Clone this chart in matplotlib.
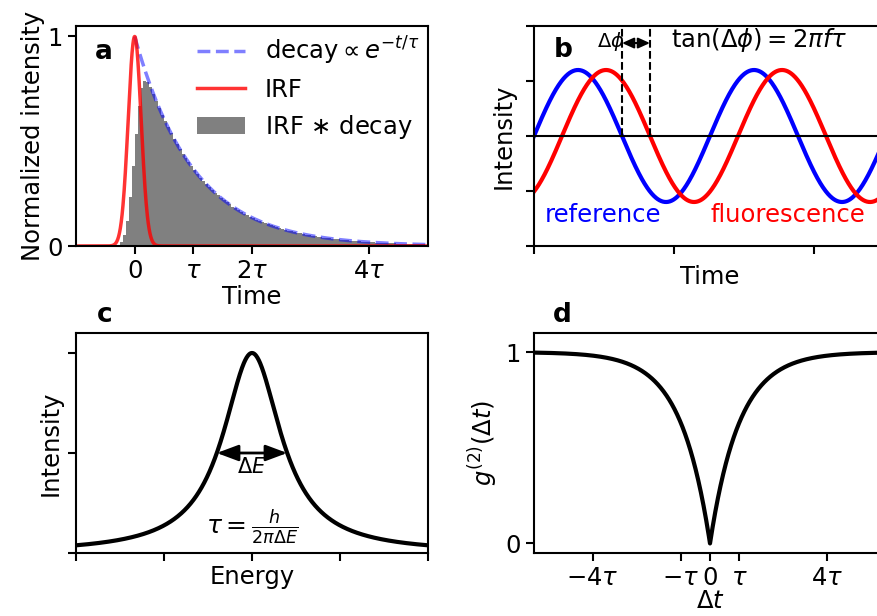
import math
import numpy as np
import matplotlib
matplotlib.use("Agg")
import matplotlib.pyplot as plt

plt.rcParams['font.size'] = 17.5
plt.rcParams['axes.linewidth'] = 1.5
plt.rcParams['xtick.major.width'] = 1.5
plt.rcParams['ytick.major.width'] = 1.5
plt.rcParams['xtick.major.size'] = 6
plt.rcParams['ytick.major.size'] = 6

# --- panel a: lifetime decay, IRF and measured histogram
tau = 1.0
irf_sigma = 0.11
bin_width = 0.05
a_xticks = [0, 1, 2, 4]
a_xticklabels = ['0', r'$\tau$', r'$2\tau$', r'$4\tau$']
a_legend = [r'decay$\propto e^{-t/\tau}$', 'IRF', r'IRF $\ast$ decay']

# --- panel b: frequency-domain phase shift
wave_amp = 1.2
phase_shift = 1.0  # rad
b_xlim = (0, 4 * np.pi)

# --- panel c: lorentzian line
half_width = 0.4

# --- panel d: antibunching
d_xticks = [-4, -1, 0, 1, 4]
d_xticklabels = [r'$-4\tau$', r'$-\tau$', '0', r'$\tau$', r'$4\tau$']

fig = plt.figure(figsize=(8.77, 6.16), dpi=100)
W, H = 877, 616


def px_axes(x0, y0, x1, y1):
    return fig.add_axes([x0 / W, 1 - y1 / H, (x1 - x0) / W, (y1 - y0) / H])


ax_a = px_axes(76, 26, 428, 246)
ax_b = px_axes(534, 26, 886, 246)
ax_c = px_axes(76, 333, 428, 553)
ax_d = px_axes(534, 333, 886, 553)

# a
t = np.linspace(-1, 5, 1200)
t_dec = np.linspace(0, 5, 400)
edges = np.arange(-1, 5 + bin_width, bin_width)
centers = edges[:-1] + bin_width / 2
conv = np.array([math.exp(irf_sigma ** 2 / (2 * tau ** 2) - c / tau)
                 * 0.5 * (1 + math.erf((c - irf_sigma ** 2 / tau) / (irf_sigma * math.sqrt(2))))
                 for c in centers])
irf = np.exp(-t ** 2 / (2 * irf_sigma ** 2))

l_dec, = ax_a.plot(t_dec, np.exp(-t_dec / tau), '--', color='blue', alpha=0.5, lw=2.5)
bars = ax_a.bar(centers, conv, width=bin_width, color='gray', linewidth=0)
l_irf, = ax_a.plot(t, irf, color='red', alpha=0.8, lw=2.5)
ax_a.set_xlim(-1, 5)
ax_a.set_ylim(0, 1.05)
ax_a.set_xticks(a_xticks)
ax_a.set_xticklabels(a_xticklabels)
ax_a.set_yticks([0, 1])
ax_a.set_xlabel('Time', labelpad=1)
ax_a.set_ylabel('Normalized intensity', labelpad=2)
ax_a.legend([l_dec, l_irf, bars], a_legend, loc='upper right', frameon=False,
            handlelength=2.0, borderaxespad=0.1, labelspacing=0.45, borderpad=0.25,
            handletextpad=0.8)
ax_a.text(0.055, 0.88, 'a', transform=ax_a.transAxes, fontweight='bold', fontsize=19, va='center')

# b
x = np.linspace(b_xlim[0], b_xlim[1], 800)
ax_b.plot(x, wave_amp * np.sin(x), color='blue', lw=3)
ax_b.plot(x, wave_amp * np.sin(x - phase_shift), color='red', lw=3)
ax_b.axhline(0, color='k', lw=1.5)
ax_b.vlines([np.pi, np.pi + phase_shift], 0, 2, colors='k', linestyles='--', lw=1.5)
ax_b.annotate('', xy=(np.pi, 1.69), xytext=(np.pi + phase_shift, 1.69),
              arrowprops=dict(arrowstyle='<|-|>,head_length=0.4,head_width=0.18',
                              lw=1.5, color='k', shrinkA=0, shrinkB=0))
ax_b.text(np.pi + 0.1, 1.71, r'$\Delta\phi$', ha='right', va='center', fontsize=14)
ax_b.text(8.05, 1.75, r'$\tan(\Delta\phi) = 2\pi f\tau$', ha='center', va='center', fontsize=17.5)
ax_b.text(0.4, -1.43, 'reference', color='blue', va='center', fontsize=17.5)
ax_b.text(6.3, -1.43, 'fluorescence', color='red', va='center', fontsize=17.5)
ax_b.set_xlim(*b_xlim)
ax_b.set_ylim(-2, 2)
ax_b.set_xticks([0, 5, 10])
ax_b.set_yticks([-2, -1, 0, 1, 2])
ax_b.set_xticklabels([])
ax_b.set_yticklabels([])
ax_b.set_xlabel('Time')
ax_b.set_ylabel('Intensity')
ax_b.text(0.055, 0.89, 'b', transform=ax_b.transAxes, fontweight='bold', fontsize=19, va='center')

# c
e = np.linspace(-2, 2, 800)
ax_c.plot(e, 1 / (1 + (e / half_width) ** 2), color='k', lw=3)
ax_c.annotate('', xy=(-half_width, 0.5), xytext=(half_width, 0.5),
              arrowprops=dict(arrowstyle='<|-|>,head_length=0.75,head_width=0.28',
                              lw=2, color='k', shrinkA=0, shrinkB=0))
ax_c.text(0, 0.43, r'$\Delta E$', ha='center', va='center', fontsize=15)
ax_c.text(0, 0.13, r'$\tau = \frac{h}{2\pi\Delta E}$', ha='center', va='center', fontsize=18)
ax_c.set_xlim(-2, 2)
ax_c.set_ylim(0, 1.1)
ax_c.set_xticks([-2, -1, 0, 1, 2])
ax_c.set_yticks([0, 0.5, 1])
ax_c.set_xticklabels([])
ax_c.set_yticklabels([])
ax_c.set_xlabel('Energy', labelpad=-1)
ax_c.set_ylabel('Intensity', labelpad=0)
ax_c.text(0.06, 1.08, 'c', transform=ax_c.transAxes, fontweight='bold', fontsize=19, va='center')

# d
dt = np.linspace(-6, 6, 1201)
ax_d.plot(dt, 1 - np.exp(-np.abs(dt) / tau), color='k', lw=3)
ax_d.set_xlim(-6, 6)
ax_d.set_ylim(-0.05, 1.1)
ax_d.set_xticks(d_xticks)
ax_d.set_xticklabels(d_xticklabels)
ax_d.set_yticks([0, 1])
ax_d.set_xlabel(r'$\Delta t$', labelpad=-1)
ax_d.set_ylabel(r'$g^{(2)}(\Delta t)$')
ax_d.text(0.055, 1.08, 'd', transform=ax_d.transAxes, fontweight='bold', fontsize=19, va='center')

fig.savefig('out.png', dpi=100)
